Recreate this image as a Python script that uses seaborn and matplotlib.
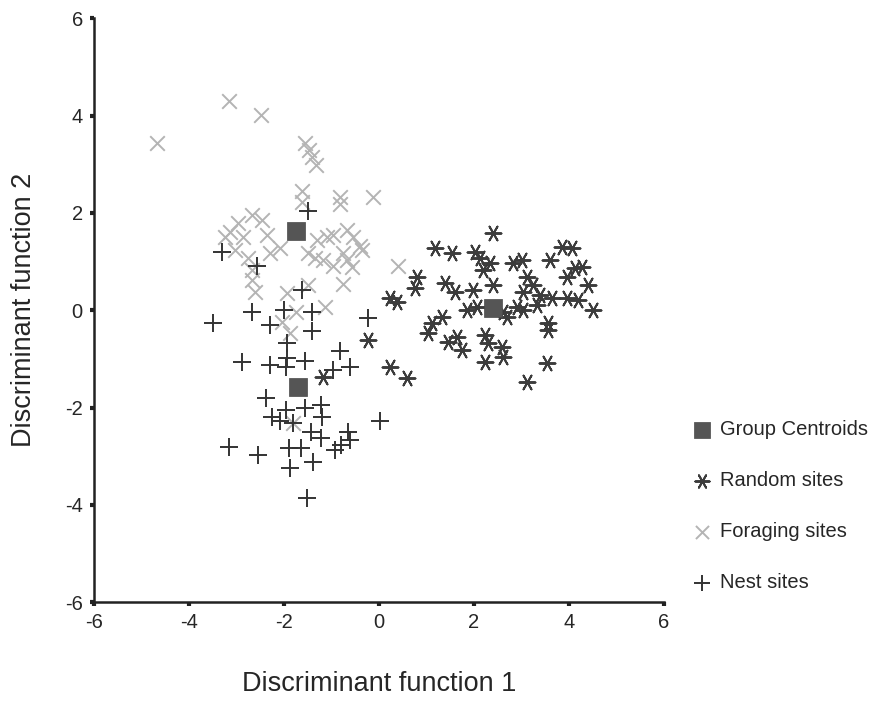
import matplotlib
matplotlib.use("Agg")
import matplotlib.pyplot as plt
import pandas as pd
import seaborn as sns

# Values (discriminant scores)
random_x = [2.40, 1.18, 1.54, 2.02, 2.13, 2.34, 2.19, 2.82, 3.01, 3.60, 3.85, 4.06,
            4.27, 4.13, 3.96, 4.40, 3.12, 3.24, 3.03, 3.39, 3.64, 3.96, 4.19, 4.51,
            0.80, 0.76, 1.39, 1.60, 1.98, 2.40, 0.23, 0.38, 1.85, 2.06, 2.91, 3.03,
            3.33, 2.61, 2.69, 1.33, 1.12, 1.03, 1.64, 1.45, 1.75, 2.23, 2.29, 2.59,
            2.61, 2.23, 3.56, 3.56, 3.54, 3.12, 0.23, 0.59, -0.23, -1.18]
random_y = [1.58, 1.27, 1.17, 1.19, 1.07, 0.97, 0.82, 0.97, 1.03, 1.03, 1.29, 1.27,
            0.88, 0.86, 0.68, 0.51, 0.68, 0.51, 0.37, 0.31, 0.25, 0.25, 0.21, 0.00,
            0.68, 0.45, 0.57, 0.37, 0.41, 0.51, 0.25, 0.16, 0.00, 0.06, 0.06, 0.00,
            0.10, -0.04, -0.14, -0.14, -0.27, -0.47, -0.55, -0.66, -0.82, -0.51, -0.68, -0.76,
            -0.97, -1.07, -0.27, -0.41, -1.09, -1.48, -1.17, -1.40, -0.62, -1.38]

foraging_x = [-4.67, -3.16, -2.48, -1.56, -1.47, -1.41, -1.33, -1.62, -1.62, -0.82, -0.82,
              -0.13, -2.67, -2.46, -2.97, -3.14, -3.24, -2.86, -2.36, -2.08, -2.29, -2.76,
              -2.67, -2.67, -2.61, -1.31, -1.09, -0.97, -0.67, -0.55, -0.40, -0.36, -1.49,
              -1.35, -1.18, -0.97, -0.76, -0.67, -0.57, -0.76, -1.49, -1.94, 0.40, -1.14,
              -1.75, -2.04, -1.87, -1.81, -3.03]
foraging_y = [3.43, 4.31, 4.02, 3.43, 3.29, 3.14, 2.98, 2.46, 2.22, 2.32, 2.18,
              2.32, 1.95, 1.85, 1.79, 1.60, 1.50, 1.50, 1.54, 1.27, 1.17, 1.07,
              0.82, 0.62, 0.37, 1.44, 1.50, 1.54, 1.64, 1.50, 1.33, 1.23, 1.17,
              1.07, 1.03, 0.92, 1.17, 1.03, 0.88, 0.55, 0.51, 0.35, 0.90, 0.06,
              -0.04, -0.25, -0.47, -2.32, 1.23]

nest_x = [-3.31, -1.49, -2.57, -1.62, -3.49, -2.67, -2.29, -2.00, -1.41, -1.41, -0.23,
          -1.94, -1.94, -2.88, -2.29, -1.96, -1.56, -0.82, -0.61, -0.97, -2.38, -1.96,
          -1.56, -1.22, -1.20, -2.25, -2.08, -1.81, -1.43, -1.22, -0.65, -0.61, -0.80,
          -0.93, 0.02, -3.16, -2.55, -1.89, -1.64, -1.39, -1.87, -1.52]
nest_y = [1.19, 2.05, 0.92, 0.41, -0.27, -0.04, -0.31, 0.00, -0.04, -0.43, -0.16,
          -0.68, -0.99, -1.07, -1.13, -1.17, -1.05, -0.84, -1.17, -1.23, -1.81, -2.05,
          -2.01, -1.95, -2.20, -2.20, -2.28, -2.32, -2.51, -2.63, -2.51, -2.67, -2.77,
          -2.87, -2.28, -2.81, -2.98, -2.83, -2.83, -3.12, -3.24, -3.86]

centroid_x = [2.40, -1.75, -1.70]
centroid_y = [0.05, 1.62, -1.58]

ticks = [-6, -4, -2, 0, 2, 4, 6]

df = pd.concat([
    pd.DataFrame({"f1": random_x, "f2": random_y, "group": "Random sites"}),
    pd.DataFrame({"f1": foraging_x, "f2": foraging_y, "group": "Foraging sites"}),
    pd.DataFrame({"f1": nest_x, "f2": nest_y, "group": "Nest sites"}),
])
cent = pd.DataFrame({"f1": centroid_x, "f2": centroid_y})

sns.set_style("ticks")
plt.rcParams["font.family"] = ["Liberation Sans", "DejaVu Sans"]
plt.rcParams["axes.unicode_minus"] = False

fig = plt.figure(figsize=(8.78, 7.02), dpi=100)
ax = fig.add_axes([0.107, 0.142, 0.649, 0.832])

styles = {
    "Foraging sites": ("x", "#b4b4b4", 110),
    "Random sites": ((6, 2, 30), "#3c3c3c", 130),
    "Nest sites": ("+", "#333333", 170),
}
for grp in ["Foraging sites", "Random sites", "Nest sites"]:
    m, c, s = styles[grp]
    sns.scatterplot(data=df[df["group"] == grp], x="f1", y="f2", ax=ax,
                    marker=m, color=c, s=s, linewidth=1.4, label=grp)

sns.scatterplot(data=cent, x="f1", y="f2", ax=ax, marker="s", color="#555555",
                s=150, edgecolor="#4a4a4a", linewidth=0.5, label="Group Centroids")

ax.set_xlim(-6, 6)
ax.set_ylim(-6, 6)
ax.set_xticks(ticks)
ax.set_yticks(ticks)
ax.tick_params(direction="out", length=3, width=3, color="#222222",
               labelsize=14.5, pad=5)
for sp in ["left", "bottom"]:
    ax.spines[sp].set_linewidth(1.8)
    ax.spines[sp].set_color("#222222")
sns.despine(ax=ax)

ax.set_xlabel("Discriminant function 1", fontsize=19.5, labelpad=28)
ax.set_ylabel("Discriminant function 2", fontsize=19.5, labelpad=20)

handles, labels = ax.get_legend_handles_labels()
order = ["Group Centroids", "Random sites", "Foraging sites", "Nest sites"]
hmap = dict(zip(labels, handles))
ax.legend([hmap[k] for k in order], order, loc="center left",
          bbox_to_anchor=(0.765, 0.279), bbox_transform=fig.transFigure,
          frameon=False, fontsize=14.5, labelspacing=1.6, handletextpad=0.3,
          handlelength=1.2, markerscale=0.9)

fig.savefig("out.png", dpi=100)
